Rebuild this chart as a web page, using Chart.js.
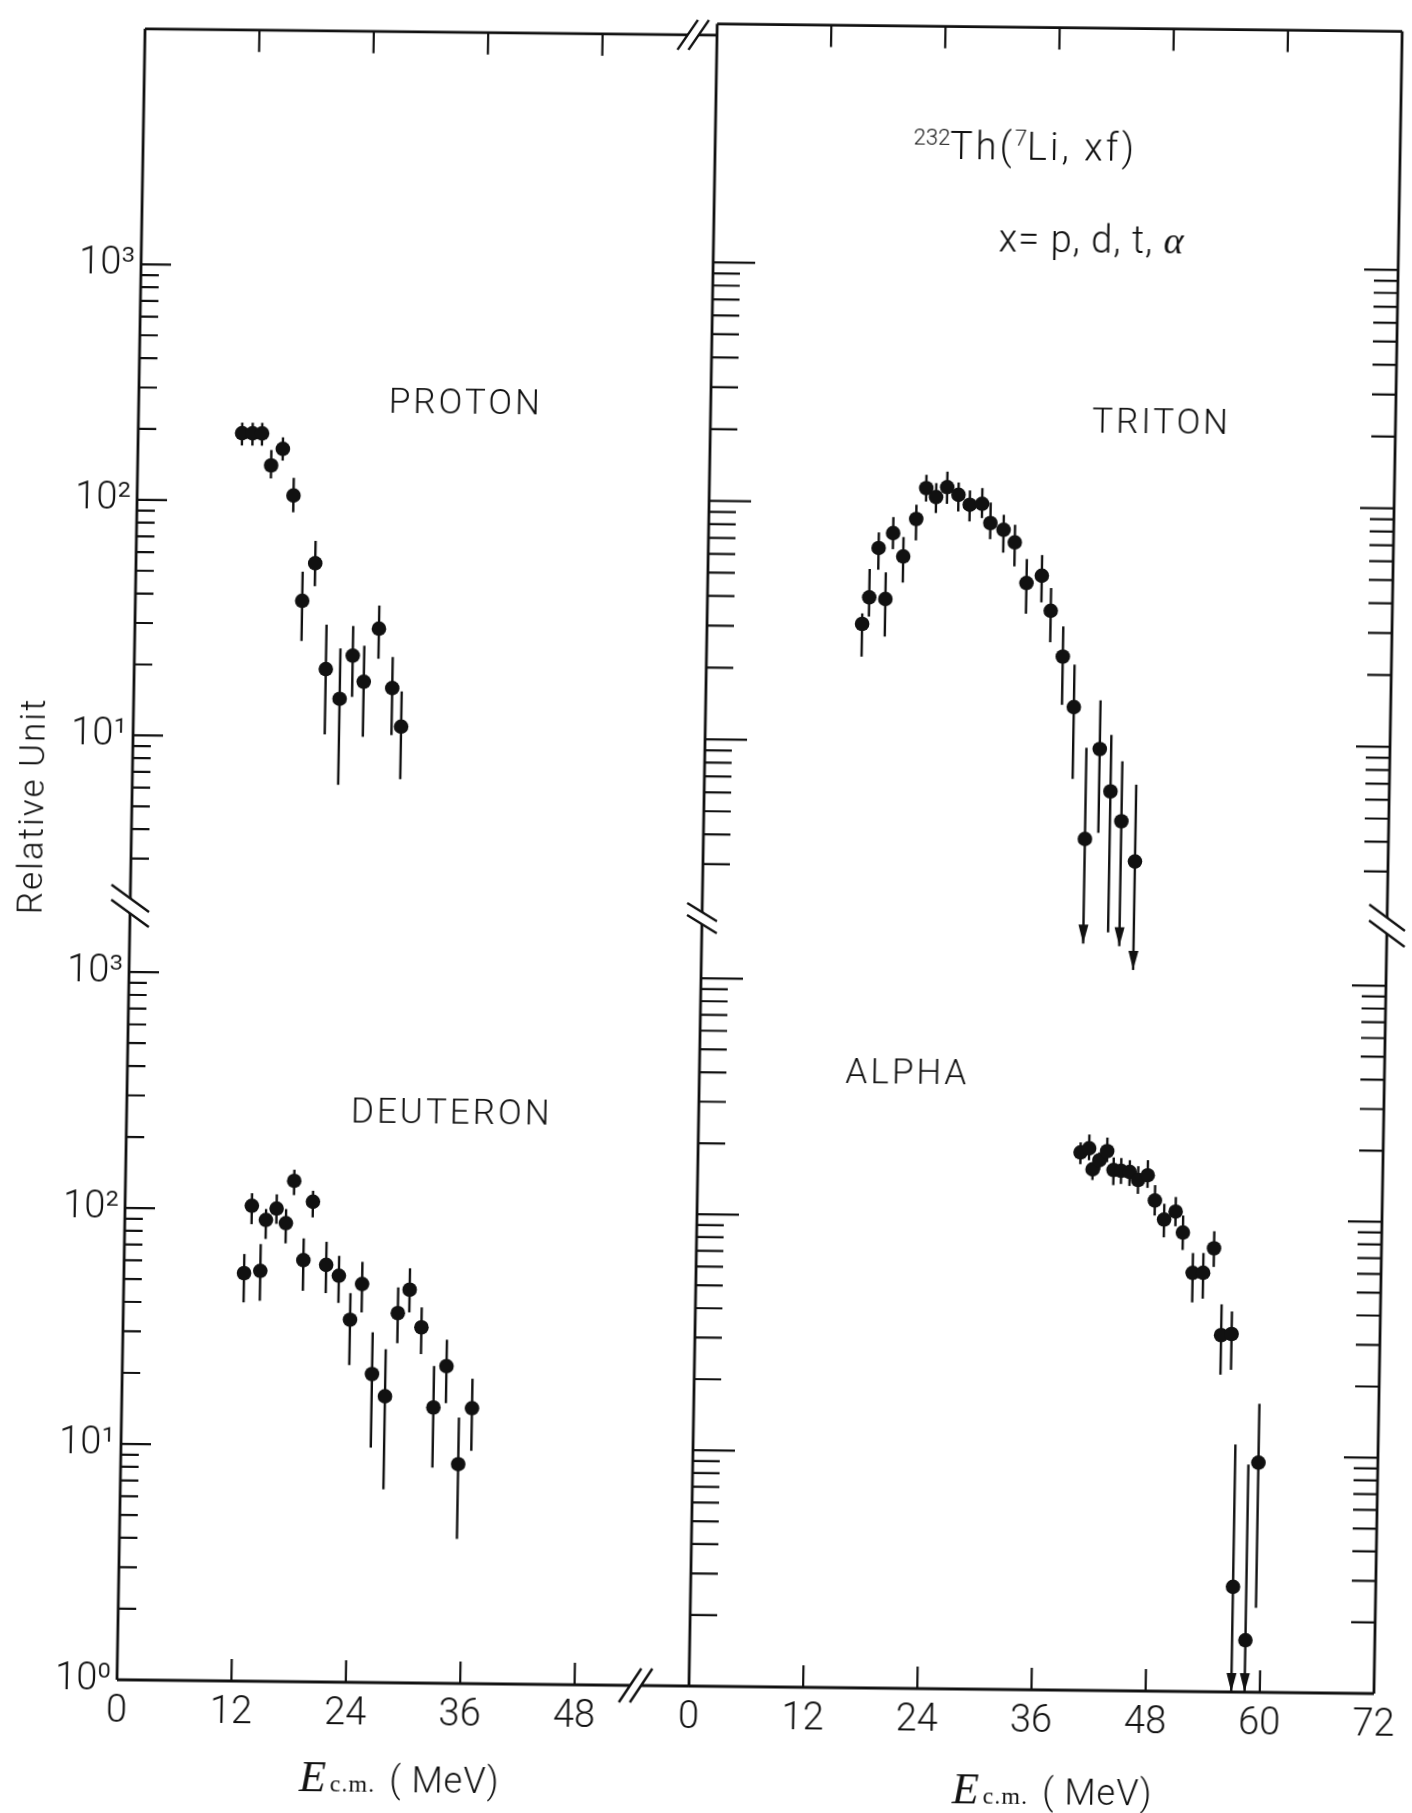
<!DOCTYPE html>
<html>
<head>
<meta charset="utf-8">
<title>232Th(7Li, xf)</title>
<script src="https://cdn.jsdelivr.net/npm/chart.js@4.4.1/dist/chart.umd.min.js"></script>
<style>
  html, body { margin: 0; padding: 0; background: #fff; overflow: hidden; }
  #fig {
    position: relative; width: 1412px; height: 1813px;
    /* the scanned figure leans a little, follow it */
    transform-origin: 117px 1680px;
    transform: matrix(1, 0.011, -0.017, 1, 0, 0);
    font-family: Roboto, "Liberation Sans", sans-serif; font-weight: 300; color: #111;
  }
  #fig canvas { position: absolute; left: 0; top: 0; }
  .txt { position: absolute; white-space: nowrap; line-height: 1; transform: translate(-50%, -50%); }
  .txt sup { font-size: 0.58em; vertical-align: 0.62em; letter-spacing: 0; }
  .name { font-size: 35px; letter-spacing: 3px; }
  .E { font-family: "Liberation Serif", serif; font-style: italic; font-weight: 400; font-size: 44px; }
  .cm { font-family: "Liberation Serif", serif; font-weight: 400; font-size: 24px; letter-spacing: 1px; margin-left: 4px; margin-right: 14px; }
  .unit { font-size: 36px; letter-spacing: 1px; }
</style>
</head>
<body>
<div id="fig">
  <canvas id="proton" width="1412" height="1813"></canvas>
  <canvas id="triton" width="1412" height="1813"></canvas>
  <canvas id="deuteron" width="1412" height="1813"></canvas>
  <canvas id="alpha" width="1412" height="1813"></canvas>

  <div class="txt" style="left:17px; top:807px; font-size:35px; letter-spacing:2px; transform:translate(-50%,-50%) rotate(-90deg)">Relative Unit</div>
  <div class="txt" style="left:999px; top:137px; font-size:38px; letter-spacing:3px"><sup>232</sup>Th(<sup>7</sup>Li, xf)</div>
  <div class="txt" style="left:1067px; top:229px; font-size:38px; letter-spacing:1px">x= p, d, t, <i style="font-family:'Liberation Serif',serif">α</i></div>

  <div class="txt name" style="left:444px; top:398px">PROTON</div>
  <div class="txt name" style="left:1140px; top:410px">TRITON</div>
  <div class="txt name" style="left:442px; top:1108px">DEUTERON</div>
  <div class="txt name" style="left:897px; top:1063px">ALPHA</div>

  <div class="txt" style="left:401px; top:1775px"><span class="E">E</span><span class="cm">c.m.</span><span class="unit">( MeV)</span></div>
  <div class="txt" style="left:1054px; top:1780px"><span class="E">E</span><span class="cm">c.m.</span><span class="unit">( MeV)</span></div>
</div>

<script>
const INK = '#111';
const FONT = 'Roboto, "Liberation Sans", sans-serif';

// E.c.m. in MeV, yield in relative units, error bar ends (low / high)
const protonE  = [10.9, 12.0, 13.0, 14.0, 15.2, 16.4, 17.5, 18.8, 20.1, 21.6, 22.9, 24.1, 25.6, 27.1, 28.1];
const protonY  = [194, 194, 194, 142, 167, 106, 37.9, 54.8, 19.5, 14.6, 22.3, 17.3, 29.1, 16.3, 11.2];
const protonLo = [172, 172, 172, 125, 149, 90, 25.6, 43.8, 10.3, 6.3, 14.9, 10.1, 21.7, 10.3, 6.7];
const protonHi = [215, 215, 215, 165, 187, 126, 50.4, 68.2, 30.1, 23.9, 29.8, 24.6, 36.5, 22.1, 15.8];

const deutE  = [12.6, 13.3, 14.3, 14.8, 15.9, 16.9, 17.7, 18.8, 19.7, 21.2, 22.55, 23.8, 25.0, 26.2, 27.6, 28.8, 30.0, 31.3, 32.7, 34.0, 35.4, 36.75];
const deutY  = [53.6, 103.5, 54.9, 90.3, 101, 87.7, 132.6, 61.2, 108.4, 58.6, 52.8, 34.4, 48.8, 20.3, 16.35, 36.9, 46.4, 32.2, 14.75, 22.1, 8.5, 14.7];
const deutLo = [40.3, 86.5, 41, 75, 87, 72, 115.4, 45.4, 93, 44.5, 40.5, 22.1, 37, 9.9, 6.6, 27.5, 37.2, 24.8, 8.2, 15.4, 4.1, 9.7];
const deutHi = [64.6, 117, 71.3, 100.4, 116, 100.6, 147.8, 75.7, 120.6, 73.4, 64.1, 44.6, 60.6, 30.5, 25.9, 47.4, 57.2, 39.1, 22.1, 28.6, 13.4, 19.6];

const tritE  = [16.3, 17.0, 17.9, 18.7, 19.4, 20.5, 21.8, 22.8, 23.85, 25.0, 26.2, 27.4, 28.7, 29.6, 31.0, 32.2, 33.5, 35.1, 36.1, 37.45, 38.7, 40.1, 41.5, 42.7, 43.9, 45.4];
const tritY  = [31.0, 40.1, 64.6, 39.5, 74.7, 59.7, 85.8, 115.8, 106.3, 117.1, 108.9, 99.0, 100.1, 83.2, 78.0, 69.2, 46.8, 50.3, 35.9, 23.1, 14.2, 3.98, 9.5, 6.32, 4.74, 3.22];
const tritLo = [22.6, 33.3, 52.4, 27.5, 64, 46.4, 69.8, 101.7, 91.1, 99.7, 92.7, 84.3, 87.2, 71.2, 62.6, 54.9, 34.8, 38.9, 26.5, 14.5, 7.1, 1.45, 4.23, 1.62, 1.42, 1.13];
const tritHi = [34.3, 52.7, 75.1, 51.1, 87.2, 72, 98.5, 131.6, 121.6, 136, 122.6, 113.7, 116.5, 101.4, 90.2, 82, 59, 61.4, 44.7, 30.9, 21.4, 9.6, 15.2, 10.9, 8.46, 6.76];
const tritArrow = [0, 0, 0, 0, 0, 0, 0, 0, 0, 0, 0, 0, 0, 0, 0, 0, 0, 0, 0, 0, 0, 1, 0, 0, 1, 1];

const alphaE  = [40.2, 41.1, 41.5, 42.2, 43.0, 43.7, 44.5, 45.4, 46.3, 47.3, 48.1, 49.1, 50.3, 51.1, 52.2, 53.3, 54.4, 55.3, 56.4, 57.0, 58.4, 59.45];
const alphaY  = [190.5, 198.4, 161.6, 176.8, 193.4, 161, 159.8, 158.1, 146.4, 153.5, 120, 99.8, 108, 88.1, 59.5, 59.6, 75.8, 32.5, 32.9, 2.79, 1.66, 9.4];
const alphaLo = [169.8, 176.6, 145.7, 160.7, 173.7, 138.9, 140.6, 138, 127.9, 135.7, 103.7, 83.9, 93.6, 74.3, 44.6, 46.3, 63.2, 22.1, 23.2, 1.0, 1.0, 2.28];
const alphaHi = [210, 227, 173.4, 191, 220.6, 181.9, 181, 177.4, 167.5, 177.8, 139.5, 116.4, 124.5, 104, 72.2, 72.3, 89.5, 43.9, 41, 11.2, 9.22, 16.7];
const alphaArrow = [0, 0, 0, 0, 0, 0, 0, 0, 0, 0, 0, 0, 0, 0, 0, 0, 0, 0, 0, 1, 1, 0];

// axis ticks
const xLabelsLeft  = [0, 12, 24, 36, 48];
const xLabelsRight = [0, 12, 24, 36, 48, 60, 72];
const xMarksLeft   = [12, 24, 36, 48];
const xMarksRight  = [12, 24, 36, 48, 60];
const yDecades      = [1, 10, 100, 1000];
const yDecadeLabels = ['10⁰', '10¹', '10²', '10³'];

// page frame (px)
const W = 1412, H = 1813;
const X0 = 117, XMID = 689, X1 = 1374;
const Y_TOP = 17.6, Y_SPLIT = 908, Y_BOT = 1680;
const Y_LABEL_W = 100, X_LABEL_H = 70;

// error bars and upper-limit arrows
const errorBars = {
  id: 'errorBars',
  beforeDatasetsDraw(chart) {
    const { ctx, scales: { x, y } } = chart;
    ctx.save();
    ctx.strokeStyle = INK;
    ctx.fillStyle = INK;
    ctx.lineWidth = 2.4;
    chart.data.datasets.forEach(ds => {
      ds.data.forEach((p, i) => {
        const px = x.getPixelForValue(p.x);
        const top = y.getPixelForValue(ds.errHigh[i]);
        const bot = y.getPixelForValue(ds.errLow[i]);
        ctx.beginPath();
        ctx.moveTo(px, top);
        ctx.lineTo(px, bot);
        ctx.stroke();
        if (ds.upperLimit[i]) {
          ctx.beginPath();
          ctx.moveTo(px, bot);
          ctx.lineTo(px - 5, bot - 19);
          ctx.lineTo(px + 5, bot - 19);
          ctx.closePath();
          ctx.fill();
        }
      });
    });
    ctx.restore();
  }
};

function logMarks(lo, hi) {
  const out = [];
  for (let n = 0; n <= 3; n++) {
    for (let m = 1; m <= 9; m++) {
      const v = m * Math.pow(10, n);
      if (v >= lo && v <= hi) out.push({ v, major: m === 1 });
    }
  }
  return out;
}

// frame lines, inward tick marks, axis breaks
function framePlugin(f) {
  return {
    id: 'frame',
    afterDraw(chart) {
      const { ctx, chartArea: a, scales: { x, y } } = chart;
      ctx.save();
      ctx.strokeStyle = INK;
      ctx.lineWidth = 2.8;
      ctx.beginPath();
      f.sides.forEach(s => {
        if (s === 'left')   { ctx.moveTo(a.left, a.top);   ctx.lineTo(a.left, a.bottom); }
        if (s === 'right')  { ctx.moveTo(a.right, a.top);  ctx.lineTo(a.right, a.bottom); }
        if (s === 'top')    { ctx.moveTo(a.left, a.top);   ctx.lineTo(a.right, a.top); }
        if (s === 'bottom') { ctx.moveTo(a.left, a.bottom); ctx.lineTo(a.right, a.bottom); }
      });
      ctx.stroke();

      ctx.lineWidth = 2.2;
      ctx.beginPath();
      f.yTicks.forEach(t => {
        const x0 = t.side === 'left' ? a.left : a.right;
        const dir = t.side === 'left' ? 1 : -1;
        logMarks(t.lo, 1000).forEach(m => {
          const py = y.getPixelForValue(m.v);
          ctx.moveTo(x0, py);
          ctx.lineTo(x0 + dir * (m.major ? t.major : t.minor), py);
        });
      });
      const yEdge = f.xTicks.side === 'top' ? a.top : a.bottom;
      const ydir = f.xTicks.side === 'top' ? 1 : -1;
      f.xTicks.values.forEach(v => {
        const px = x.getPixelForValue(v);
        ctx.moveTo(px, yEdge);
        ctx.lineTo(px, yEdge + ydir * 22);
      });
      ctx.stroke();

      (f.breaks || []).forEach(b => {
        let p1, p2, q1, q2;
        if (b.type === 'v') {
          const cx = b.side === 'left' ? a.left : a.right;
          const cy = a.top + b.dy;
          p1 = [cx - b.w / 2, cy - b.h / 2 - b.gap / 2]; p2 = [cx + b.w / 2, cy + b.h / 2 - b.gap / 2];
          q1 = [cx - b.w / 2, cy - b.h / 2 + b.gap / 2]; q2 = [cx + b.w / 2, cy + b.h / 2 + b.gap / 2];
        } else {
          const cx = x.getPixelForValue(b.x);
          const cy = b.at === 'top' ? a.top : a.bottom;
          p1 = [cx - b.gap / 2 - b.w / 2, cy + b.h / 2]; p2 = [cx - b.gap / 2 + b.w / 2, cy - b.h / 2];
          q1 = [cx + b.gap / 2 - b.w / 2, cy + b.h / 2]; q2 = [cx + b.gap / 2 + b.w / 2, cy - b.h / 2];
        }
        ctx.fillStyle = '#fff';
        ctx.beginPath();
        ctx.moveTo(...p1); ctx.lineTo(...p2); ctx.lineTo(...q2); ctx.lineTo(...q1);
        ctx.closePath();
        ctx.fill();
        ctx.lineWidth = 2.4;
        ctx.beginPath();
        ctx.moveTo(...p1); ctx.lineTo(...p2);
        ctx.moveTo(...q1); ctx.lineTo(...q2);
        ctx.stroke();
      });
      ctx.restore();
    }
  };
}

function panel(id, c) {
  const isLeft = c.col === 'left';
  const isLower = c.row === 'lower';
  const left = isLeft ? X0 : XMID, right = isLeft ? XMID : X1;
  const top = isLower ? Y_SPLIT : Y_TOP, bottom = isLower ? Y_BOT : Y_SPLIT;
  const xLabels = isLeft ? xLabelsLeft : xLabelsRight;
  const tickFont = { family: FONT, size: 38, weight: 300 };

  return new Chart(document.getElementById(id), {
    type: 'scatter',
    data: {
      datasets: [{
        data: c.E.map((e, i) => ({ x: e, y: c.Y[i] })),
        errLow: c.lo, errHigh: c.hi, upperLimit: c.arrow || [],
        pointRadius: 7.3, pointBackgroundColor: INK, pointBorderWidth: 0
      }]
    },
    options: {
      responsive: false, animation: false, devicePixelRatio: 1, events: [],
      layout: {
        autoPadding: false,
        padding: {
          left: left - (isLeft ? Y_LABEL_W : 0), right: W - right,
          top: top, bottom: H - bottom - (isLower ? X_LABEL_H : 0)
        }
      },
      plugins: { legend: { display: false }, tooltip: { enabled: false } },
      scales: {
        x: {
          type: 'linear', min: 0, max: isLeft ? 60 : 72, display: isLower,
          grid: { display: false, drawTicks: false }, border: { display: false },
          afterBuildTicks: s => { s.ticks = xLabels.map(v => ({ value: v })); },
          afterFit: s => { s.height = isLower ? X_LABEL_H : 0; },
          ticks: { autoSkip: false, maxRotation: 0, padding: 10, color: INK, font: tickFont }
        },
        y: {
          type: 'logarithmic', min: isLower ? 1 : 1.85, max: isLower ? 1870 : 10000, display: isLeft,
          grid: { display: false, drawTicks: false }, border: { display: false },
          afterBuildTicks: s => { s.ticks = yDecades.filter(v => v >= s.min && v <= s.max).map(v => ({ value: v })); },
          afterFit: s => { s.width = isLeft ? Y_LABEL_W : 0; },
          ticks: {
            autoSkip: false, padding: 6, color: INK, font: tickFont,
            callback: v => { const k = yDecades.indexOf(v); return k < 0 ? '' : yDecadeLabels[k]; }
          }
        }
      }
    },
    plugins: [errorBars, framePlugin(c.frame)]
  });
}

panel('proton', {
  col: 'left', row: 'upper', E: protonE, Y: protonY, lo: protonLo, hi: protonHi,
  frame: {
    sides: ['left', 'top'],
    yTicks: [{ side: 'left', major: 30, minor: 18, lo: 3 }],
    xTicks: { side: 'top', values: xMarksLeft },
    breaks: [{ type: 'h', at: 'top', x: 57.5, w: 20, h: 30, gap: 11 }]
  }
});
panel('triton', {
  col: 'right', row: 'upper', E: tritE, Y: tritY, lo: tritLo, hi: tritHi, arrow: tritArrow,
  frame: {
    sides: ['left', 'top', 'right'],
    yTicks: [{ side: 'left', major: 42, minor: 27, lo: 3 }, { side: 'right', major: 34, minor: 24, lo: 3 }],
    xTicks: { side: 'top', values: xMarksRight }
  }
});
panel('deuteron', {
  col: 'left', row: 'lower', E: deutE, Y: deutY, lo: deutLo, hi: deutHi,
  frame: {
    sides: ['left', 'bottom'],
    yTicks: [{ side: 'left', major: 30, minor: 18, lo: 2 }],
    xTicks: { side: 'bottom', values: xMarksLeft },
    breaks: [
      { type: 'v', side: 'left', dy: -2, w: 38, h: 27, gap: 15 },
      { type: 'h', at: 'bottom', x: 54.4, w: 22, h: 34, gap: 11 }
    ]
  }
});
panel('alpha', {
  col: 'right', row: 'lower', E: alphaE, Y: alphaY, lo: alphaLo, hi: alphaHi, arrow: alphaArrow,
  frame: {
    sides: ['left', 'bottom', 'right'],
    yTicks: [{ side: 'left', major: 42, minor: 27, lo: 2 }, { side: 'right', major: 34, minor: 24, lo: 2 }],
    xTicks: { side: 'bottom', values: xMarksRight },
    breaks: [
      { type: 'v', side: 'left', dy: 4, w: 30, h: 18, gap: 12 },
      { type: 'v', side: 'right', dy: 4, w: 36, h: 26, gap: 16 }
    ]
  }
});
</script>
</body>
</html>
